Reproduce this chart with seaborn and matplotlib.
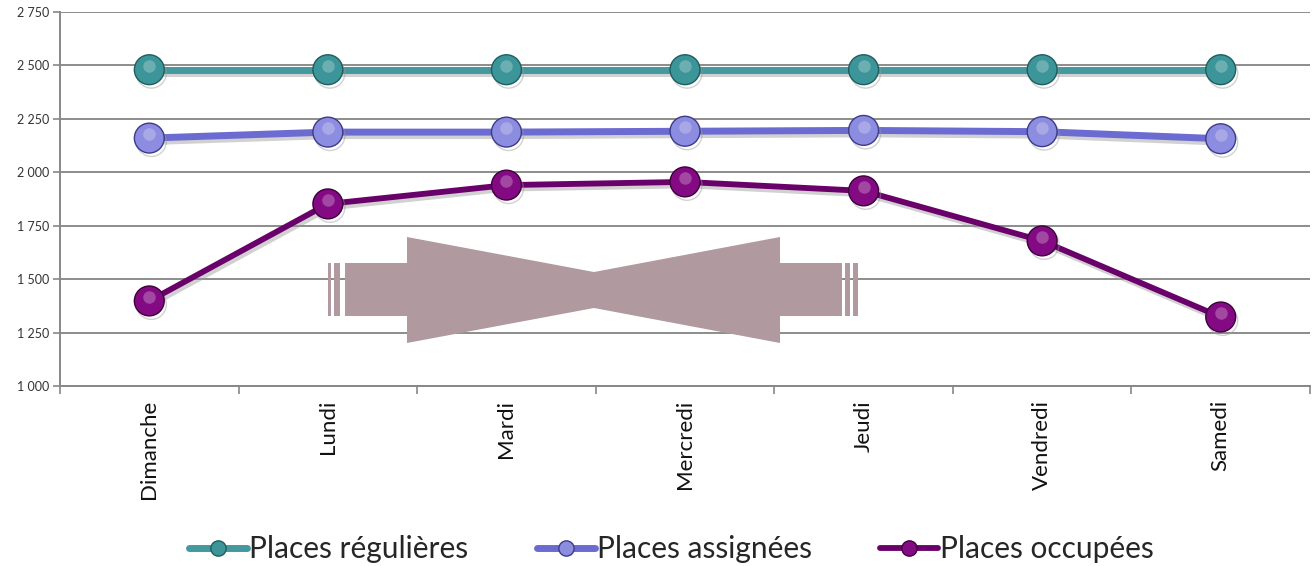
import pandas as pd
import numpy as np
import matplotlib.pyplot as plt
import matplotlib.patheffects as pe
from matplotlib.patches import Polygon, Rectangle
from matplotlib.lines import Line2D
import seaborn as sns

sns.set_theme(style='white')
plt.rcParams['font.family'] = ['Lato', 'DejaVu Sans']

jours = ['Dimanche', 'Lundi', 'Mardi', 'Mercredi', 'Jeudi', 'Vendredi', 'Samedi']
regulieres = [2480, 2480, 2480, 2480, 2480, 2480, 2480]
assignees = [2160, 2188, 2188, 2192, 2196, 2190, 2157]
occupees = [1398, 1852, 1940, 1955, 1913, 1679, 1323]

series = ['Places régulières', 'Places assignées', 'Places occupées']
line_colors = ['#43999d', '#6b6bd2', '#6a006a']
marker_colors = ['#3c9599', '#8c8ce0', '#840a84']
edge_colors = ['#1f5e60', '#3c3c8a', '#3d003d']
line_widths = [5, 5, 4.2]

df = pd.DataFrame({
    'jour': jours * 3,
    'x': list(range(len(jours))) * 3,
    'valeur': regulieres + assignees + occupees,
    'serie': np.repeat(series, len(jours)),
})

W, H = 1314, 566
fig = plt.figure(figsize=(W / 100, H / 100), dpi=100)
ax = fig.add_axes([60 / W, 1 - 386 / H, 1250 / W, 374 / H])

shadow = [pe.SimpleLineShadow(offset=(1.5, -2.5), shadow_color='#999999', alpha=0.45), pe.Normal()]
for s, lc, mc, ec, lw in zip(series, line_colors, marker_colors, edge_colors, line_widths):
    sub = df[df['serie'] == s]
    sns.lineplot(data=sub, x='x', y='valeur', ax=ax, color=lc, linewidth=lw,
                 marker='o', markersize=21.5, markerfacecolor=mc,
                 markeredgecolor=ec, markeredgewidth=1.0, zorder=4,
                 path_effects=shadow, legend=False)
    # highlight on the balls
    ax.plot(sub['x'], sub['valeur'] + 18, 'o', ms=9, color='white',
            alpha=0.25, zorder=5, markeredgewidth=0)

ax.set_xlim(-0.5, len(jours) - 0.5)
ax.set_ylim(1000, 2750)
ax.set_yticks(np.arange(1000, 2751, 250))
ax.set_yticklabels([f'{v:,}'.replace(',', ' ') for v in range(1000, 2751, 250)],
                   fontsize=9, color='#333333')
ax.set_xticks(range(len(jours)))
ax.set_xticklabels(jours, rotation=90, fontsize=16, color='#111111')
ax.set_xticks(np.arange(-0.5, len(jours), 1), minor=True)
ax.tick_params(axis='x', which='major', length=0, pad=10)
ax.tick_params(axis='x', which='minor', length=6, width=1.2, color='#888888', direction='out')
ax.tick_params(axis='y', length=5, width=1.2, color='#888888', direction='out', pad=3)
ax.tick_params(axis='both', bottom=True, left=True, which='both')
ax.set_xlabel('')
ax.set_ylabel('')
ax.yaxis.grid(True, color='#8c8c8c', linewidth=1.4)
ax.set_axisbelow(True)
for side in ['top', 'right']:
    ax.spines[side].set_visible(False)
for side in ['left', 'bottom']:
    ax.spines[side].set_color('#888888')
    ax.spines[side].set_linewidth(1.4)

# decorative bow-tie arrows (figure pixels)
arrow_col = '#b09aa0'
def px(pts):
    return [(x / W, 1 - y / H) for x, y in pts]

left_shape = px([(345, 263), (407, 263), (407, 237), (594, 272), (594, 308),
                 (407, 343), (407, 316), (345, 316)])
right_shape = px([(842, 263), (780, 263), (780, 237), (594, 272), (594, 308),
                  (780, 343), (780, 316), (842, 316)])
for shp in (left_shape, right_shape):
    fig.patches.append(Polygon(shp, closed=True, transform=fig.transFigure,
                               facecolor=arrow_col, edgecolor='none', zorder=3))
for x0, w in [(328, 3), (334, 6), (845, 5), (853, 5)]:
    fig.patches.append(Rectangle((x0 / W, 1 - 316 / H), w / W, 53 / H,
                                 transform=fig.transFigure, facecolor=arrow_col,
                                 edgecolor='none', zorder=3))

handles = [Line2D([0], [0], color=lc, lw=lw, marker='o', ms=11, markerfacecolor=mc,
                  markeredgecolor=ec) for lc, mc, ec, lw in
           zip(line_colors, marker_colors, edge_colors, line_widths)]
fig.legend(handles, series, loc='center', bbox_to_anchor=(0.511, 0.03), ncol=3,
           frameon=False, fontsize=21.5, handlelength=1.95, handletextpad=0.05,
           columnspacing=2.3)

fig.savefig('out.png', dpi=100)
